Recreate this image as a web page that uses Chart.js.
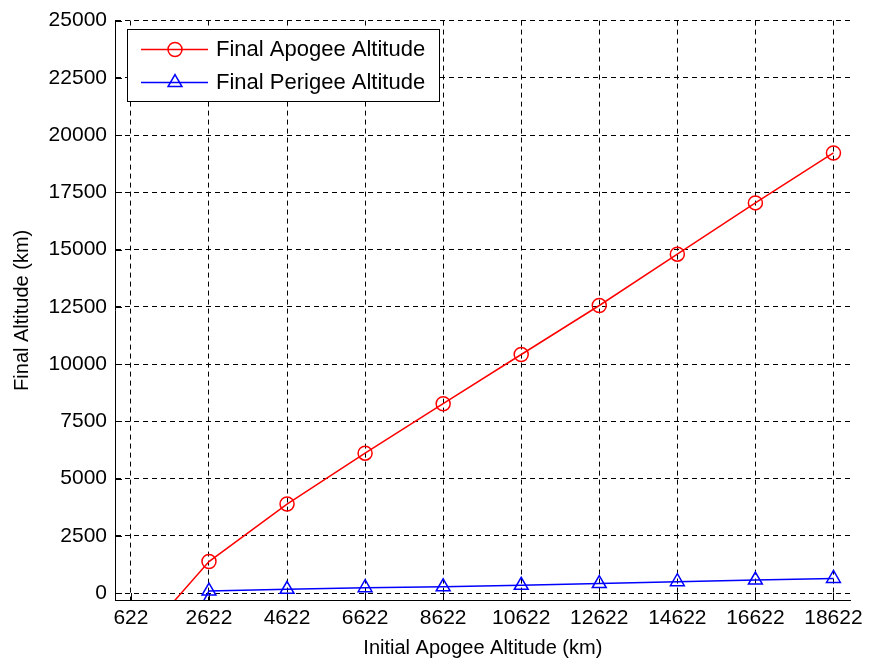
<!DOCTYPE html>
<html>
<head>
<meta charset="utf-8">
<title>Final Altitude vs Initial Apogee Altitude</title>
<script src="https://cdn.jsdelivr.net/npm/chart.js@4.4.1/dist/chart.umd.min.js"></script>
<style>
  html, body { margin: 0; padding: 0; background: #ffffff; }
  #wrap { width: 869px; height: 667px; position: relative; }
</style>
</head>
<body>
<div id="wrap"><canvas id="chart"></canvas></div>
<script>
// Initial apogee altitude (km) for each run
const initialApogee = [622, 2622, 4622, 6622, 8622, 10622, 12622, 14622, 16622, 18622];
// Resulting final apogee / perigee altitudes (km)
const finalApogee  = [-2500, 1380, 3890, 6110, 8270, 10420, 12560, 14800, 17040, 19220];
const finalPerigee = [-6100, 90, 165, 240, 275, 340, 420, 500, 570, 640];
// Axis tick values
const xTicks = [622, 2622, 4622, 6622, 8622, 10622, 12622, 14622, 16622, 18622];
const yTicks = [0, 2500, 5000, 7500, 10000, 12500, 15000, 17500, 20000, 22500, 25000];

const FONT = '"Liberation Sans", Arial, Helvetica, sans-serif';

const toPoints = ys => initialApogee.map((x, i) => ({ x: x, y: ys[i] }));

// Short inward tick marks on the left and bottom axes
const innerTicks = {
  id: 'innerTicks',
  beforeDatasetsDraw(chart) {
    const { ctx, chartArea, scales } = chart;
    ctx.save();
    ctx.strokeStyle = '#000';
    ctx.lineWidth = 1;
    ctx.setLineDash([]);
    ctx.beginPath();
    xTicks.forEach(v => {
      const px = Math.round(scales.x.getPixelForValue(v)) + 0.5;
      ctx.moveTo(px, chartArea.bottom);
      ctx.lineTo(px, chartArea.bottom - 7);
    });
    yTicks.forEach(v => {
      const py = Math.round(scales.y.getPixelForValue(v)) + 0.5;
      ctx.moveTo(chartArea.left, py);
      ctx.lineTo(chartArea.left + 7, py);
    });
    ctx.stroke();
    ctx.restore();
  }
};

// Boxed legend inside the plot, showing line + marker for each series
const boxLegend = {
  id: 'boxLegend',
  afterDraw(chart) {
    const { ctx } = chart;
    const bx = 127.5, by = 29.5, bw = 312, bh = 72;
    ctx.save();
    ctx.fillStyle = '#fff';
    ctx.fillRect(bx, by, bw, bh);
    ctx.strokeStyle = '#000';
    ctx.lineWidth = 1;
    ctx.setLineDash([]);
    ctx.strokeRect(bx, by, bw, bh);
    const rows = [49, 82];
    chart.data.datasets.forEach((ds, i) => {
      const y = rows[i] + 0.5;
      ctx.strokeStyle = ds.borderColor;
      ctx.lineWidth = ds.borderWidth;
      ctx.beginPath();
      ctx.moveTo(141, y);
      ctx.lineTo(208, y);
      ctx.stroke();
      ctx.fillStyle = 'rgba(0,0,0,0)';
      ctx.strokeStyle = ds.pointBorderColor;
      ctx.lineWidth = ds.pointBorderWidth;
      Chart.helpers.drawPoint(ctx, {
        pointStyle: ds.pointStyle,
        radius: ds.pointRadius,
        rotation: 0,
        borderWidth: ds.pointBorderWidth
      }, 175, y);
      ctx.fillStyle = '#000';
      ctx.font = '22px ' + FONT;
      ctx.textBaseline = 'middle';
      ctx.textAlign = 'left';
      ctx.fillText(ds.label, 216, y);
    });
    ctx.restore();
  }
};

new Chart(document.getElementById('chart'), {
  type: 'line',
  data: {
    datasets: [
      {
        label: 'Final Apogee Altitude',
        data: toPoints(finalApogee),
        borderColor: '#ff0000',
        borderWidth: 1.5,
        pointStyle: 'circle',
        pointRadius: 7,
        pointBorderWidth: 1.5,
        pointBorderColor: '#ff0000',
        pointBackgroundColor: 'rgba(0,0,0,0)',
        fill: false,
        tension: 0,
        clip: 0
      },
      {
        label: 'Final Perigee Altitude',
        data: toPoints(finalPerigee),
        borderColor: '#0000ff',
        borderWidth: 1.5,
        pointStyle: 'triangle',
        pointRadius: 8,
        pointBorderWidth: 1.5,
        pointBorderColor: '#0000ff',
        pointBackgroundColor: 'rgba(0,0,0,0)',
        fill: false,
        tension: 0,
        clip: 0
      }
    ]
  },
  options: {
    responsive: true,
    maintainAspectRatio: false,
    animation: false,
    events: [],
    layout: { padding: { top: 18, right: 15, left: 0, bottom: 0 } },
    plugins: {
      legend: { display: false },
      tooltip: { enabled: false }
    },
    scales: {
      x: {
        type: 'linear',
        min: 214,
        max: 19063,
        afterBuildTicks: s => { s.ticks = xTicks.map(v => ({ value: v })); },
        afterFit: s => { s.height = 67; },
        grid: { color: '#000', lineWidth: 1, drawTicks: false },
        border: { display: true, color: '#000', width: 1, dash: [5, 4] },
        ticks: {
          color: '#000',
          font: { family: FONT, size: 21 },
          padding: 6,
          maxRotation: 0,
          autoSkip: false,
          callback: v => String(v)
        },
        title: {
          display: true,
          text: 'Initial Apogee Altitude (km)',
          color: '#000',
          font: { family: FONT, size: 20 },
          padding: { top: 0, bottom: 7 }
        }
      },
      y: {
        type: 'linear',
        min: -300,
        max: 25000,
        afterBuildTicks: s => { s.ticks = yTicks.map(v => ({ value: v })); },
        afterFit: s => { s.width = 115; },
        grid: { color: '#000', lineWidth: 1, drawTicks: false },
        border: { display: true, color: '#000', width: 1, dash: [5, 4] },
        ticks: {
          color: '#000',
          font: { family: FONT, size: 21 },
          padding: 8,
          autoSkip: false,
          callback: v => String(v)
        },
        title: {
          display: true,
          text: 'Final Altitude (km)',
          color: '#000',
          font: { family: FONT, size: 20 },
          padding: { top: 10, bottom: 0 }
        }
      }
    }
  },
  plugins: [innerTicks, boxLegend]
});
</script>
</body>
</html>
